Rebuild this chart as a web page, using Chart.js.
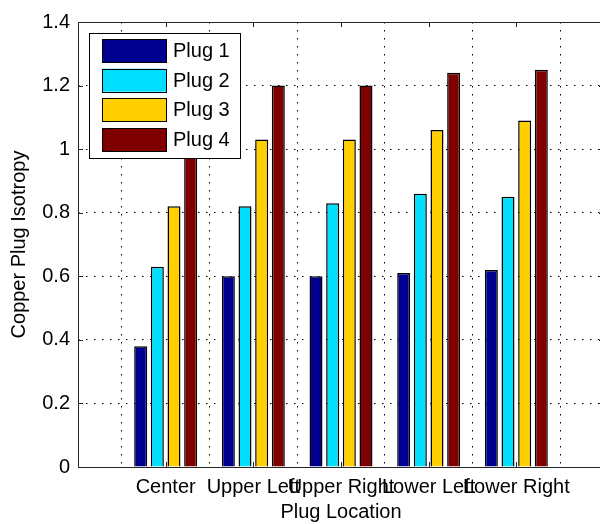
<!DOCTYPE html>
<html>
<head>
<meta charset="utf-8">
<script src="https://cdn.jsdelivr.net/npm/chart.js@4/dist/chart.umd.min.js"></script>
<style>
  html, body { margin: 0; padding: 0; background: #fff; overflow: hidden; }
  #wrap { width: 612px; height: 524px; }
</style>
</head>
<body>
<div id="wrap"><canvas id="isoChart" width="612" height="524"></canvas></div>
<script>
// data
const locations = ['Center', 'Upper Left', 'Upper Right', 'Lower Left', 'Lower Right'];
const plug1 = [0.38, 0.60, 0.60, 0.61, 0.62];
const plug2 = [0.63, 0.82, 0.83, 0.86, 0.85];
const plug3 = [0.82, 1.03, 1.03, 1.06, 1.09];
const plug4 = [1.00, 1.20, 1.20, 1.24, 1.25];
const seriesNames = ['Plug 1', 'Plug 2', 'Plug 3', 'Plug 4'];
const seriesColors = ['#000090', '#00dfff', '#ffcf00', '#800000'];
const yTicks = [0, 0.2, 0.4, 0.6, 0.8, 1, 1.2, 1.4];

// axis runs 0..6 like matlab, so pad an empty slot on each side
const pad = arr => [null, ...arr, null];
const xLabels = ['', ...locations, ''];

Chart.defaults.font.family = "'Liberation Sans', Arial, sans-serif";
Chart.defaults.font.size = 20;
Chart.defaults.color = '#000';

const boxAndLegend = {
  id: 'boxAndLegend',
  afterDraw(chart) {
    const ctx = chart.ctx;
    const a = chart.chartArea;
    const xs = chart.scales.x, ys = chart.scales.y;
    ctx.save();
    ctx.strokeStyle = '#262626';
    ctx.lineWidth = 1;
    ctx.setLineDash([]);
    ctx.strokeRect(a.left + 0.5, a.top + 0.5, a.right - a.left, a.bottom - a.top);
    // inward ticks
    ctx.beginPath();
    yTicks.forEach(v => {
      const y = Math.round(ys.getPixelForValue(v)) + 0.5;
      ctx.moveTo(a.left, y); ctx.lineTo(a.left + 5, y);
      ctx.moveTo(a.right, y); ctx.lineTo(a.right - 5, y);
    });
    locations.forEach((l, i) => {
      const x = Math.round(xs.getPixelForValue(i + 1)) + 0.5;
      ctx.moveTo(x, a.bottom); ctx.lineTo(x, a.bottom - 5);
      ctx.moveTo(x, a.top); ctx.lineTo(x, a.top + 5);
    });
    ctx.stroke();

    // legend box, drawn on top of the bars
    const lx = 89, ly = 33, lw = 151, lh = 125;
    ctx.fillStyle = '#fff';
    ctx.fillRect(lx, ly, lw, lh);
    ctx.strokeStyle = '#000';
    ctx.strokeRect(lx + 0.5, ly + 0.5, lw, lh);
    ctx.font = "20px 'Liberation Sans', Arial, sans-serif";
    ctx.textBaseline = 'middle';
    chart.data.datasets.forEach((ds, i) => {
      const sy = 39 + i * 29.7;
      ctx.fillStyle = ds.backgroundColor;
      ctx.fillRect(102, sy, 64, 23);
      ctx.strokeRect(102.5, Math.round(sy) + 0.5, 64, 23);
      ctx.fillStyle = '#000';
      ctx.fillText(ds.label, 173, sy + 12.5);
    });
    ctx.restore();
  }
};

new Chart(document.getElementById('isoChart'), {
  type: 'bar',
  data: {
    labels: xLabels,
    datasets: [plug1, plug2, plug3, plug4].map((vals, i) => ({
      label: seriesNames[i],
      data: pad(vals),
      backgroundColor: seriesColors[i],
      borderColor: '#000',
      borderWidth: 1.5,
      categoryPercentage: 0.76,
      barPercentage: 0.78
    }))
  },
  options: {
    responsive: false,
    animation: false,
    layout: { padding: { top: 22, right: 6, left: 0, bottom: 0 } },
    plugins: { legend: { display: false }, tooltip: { enabled: false } },
    scales: {
      x: {
        offset: false,
        grid: { color: '#000', lineWidth: 1, drawTicks: false },
        border: { display: false, dash: [1.5, 6.5] },
        ticks: { autoSkip: false, maxRotation: 0, minRotation: 0, padding: 8 },
        title: { display: true, text: 'Plug Location', padding: { top: 0, bottom: 0 } },
        afterFit: s => { s.height = 57; }
      },
      y: {
        min: 0,
        max: 1.4,
        grid: { color: '#000', lineWidth: 1, drawTicks: false },
        border: { display: false, dash: [1.5, 6.5] },
        ticks: { padding: 8, callback: v => String(v) },
        afterBuildTicks: s => { s.ticks = yTicks.map(v => ({ value: v })); },
        title: { display: true, text: 'Copper Plug Isotropy', padding: { top: 7, bottom: 0 } },
        afterFit: s => { s.width = 78; }
      }
    }
  },
  plugins: [boxAndLegend]
});
</script>
</body>
</html>
